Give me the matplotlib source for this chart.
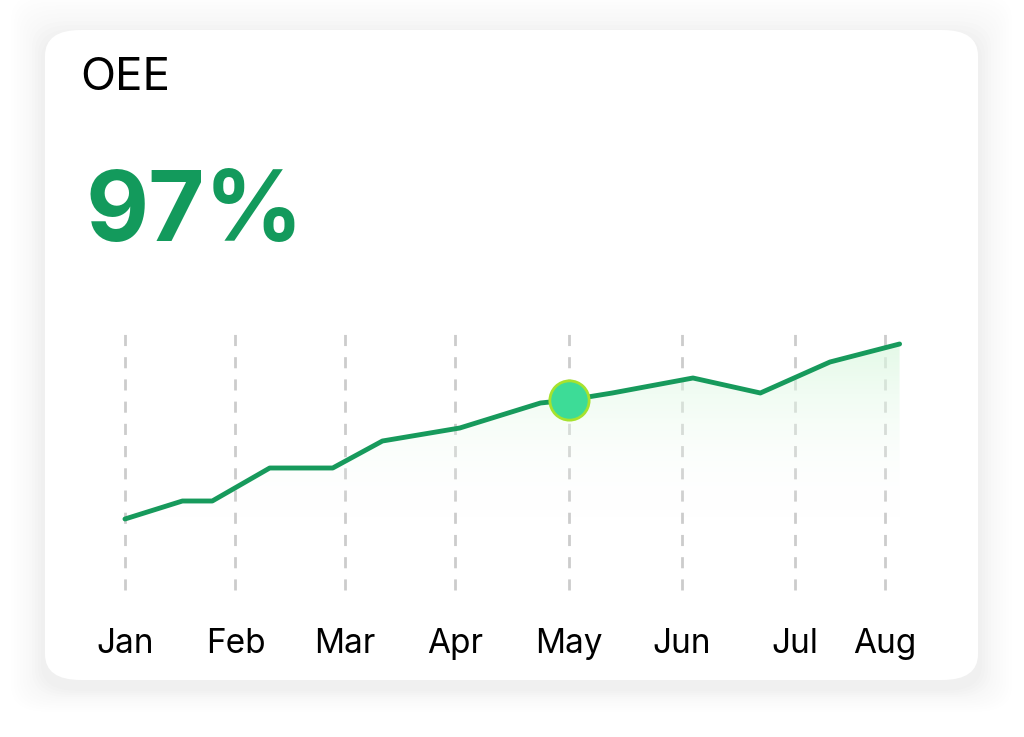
import matplotlib
matplotlib.use("Agg")
import matplotlib.pyplot as plt
import numpy as np
from matplotlib.patches import FancyBboxPatch, Polygon
from matplotlib.colors import LinearSegmentedColormap

months = ["Jan", "Feb", "Mar", "Apr", "May", "Jun", "Jul", "Aug"]
month_pos = [0, 1.0, 1.99, 2.99, 4.02, 5.04, 6.06, 6.88]
x_vals = [0, 0.52, 0.79, 1.31, 1.88, 2.33, 3.03, 3.76, 4.02, 4.41, 5.14, 5.75, 6.38, 7.01]
y_vals = [8.1, 9.9, 9.9, 13.2, 13.2, 15.9, 17.2, 19.7, 20.0, 20.7, 22.2, 20.7, 23.8, 25.6]
highlight_idx = 8
title = "OEE"
kpi = "97%"

plt.rcParams['font.family'] = ['Inter', 'DejaVu Sans']
W, H = 1024, 737
fig = plt.figure(figsize=(W/100, H/100), dpi=100)
fig.patch.set_facecolor("white")

for i, a in enumerate(np.linspace(0.008, 0.0015, 12)):
    g = 4 + i*3
    fig.patches.append(FancyBboxPatch(((45-g)/W, (737-680-g-8+g*0.3)/H), (933+2*g)/W, (650+2*g)/H,
        boxstyle="round,pad=0,rounding_size=0.035", transform=fig.transFigure,
        facecolor="black", edgecolor="none", alpha=a, zorder=0))
fig.patches.append(FancyBboxPatch((45/W, (737-680)/H), 933/W, 650/H,
    boxstyle="round,pad=0,rounding_size=0.035", transform=fig.transFigure,
    facecolor="white", edgecolor="none", zorder=1))

fig.text(80/W, 1-78/H, title, fontsize=33, va="center", ha="left", color="black", zorder=5)
fig.text(86/W, 1-216/H, kpi, fontsize=70, fontweight="bold", va="center", ha="left", color="#139a5c", zorder=5)

ax = fig.add_axes([100/W, 1-600/H, 825/W, 280/H], zorder=3)
ax.patch.set_alpha(0)
for s in ax.spines.values():
    s.set_visible(False)
ax.set_yticks([])
ax.set_xticks(month_pos)
ax.set_xticklabels(months, fontsize=24)
ax.tick_params(axis="x", length=0, pad=20)

for p in month_pos:
    ax.plot([p, p], [1.0, 26.7], ls=(0, (4, 4)), color="#cccccc", lw=2, zorder=1)

base = 8.1
poly = Polygon(list(zip(x_vals, y_vals)) + [(x_vals[-1], base), (x_vals[0], base)], closed=True,
               facecolor="none", edgecolor="none")
ax.add_patch(poly)
grad = np.linspace(0, 1, 100).reshape(-1, 1)
cmap = LinearSegmentedColormap.from_list("g", [(1, 1, 1, 0), (0.85, 0.97, 0.87, 0.7)])
im = ax.imshow(grad, extent=[x_vals[0], x_vals[-1], base, max(y_vals)], origin="lower",
               cmap=cmap, aspect="auto", zorder=1)
im.set_clip_path(poly)

ax.plot(x_vals, y_vals, color="#179a5c", lw=3.5, zorder=4, solid_capstyle="round")
ax.scatter([x_vals[highlight_idx]], [y_vals[highlight_idx]], s=800, color="#3ddc97",
           edgecolor="#a6e22e", linewidth=2, zorder=5)
ax.set_xlim(-0.226, 7.24)
ax.set_ylim(0, 28)

fig.savefig("out.png", dpi=100)
